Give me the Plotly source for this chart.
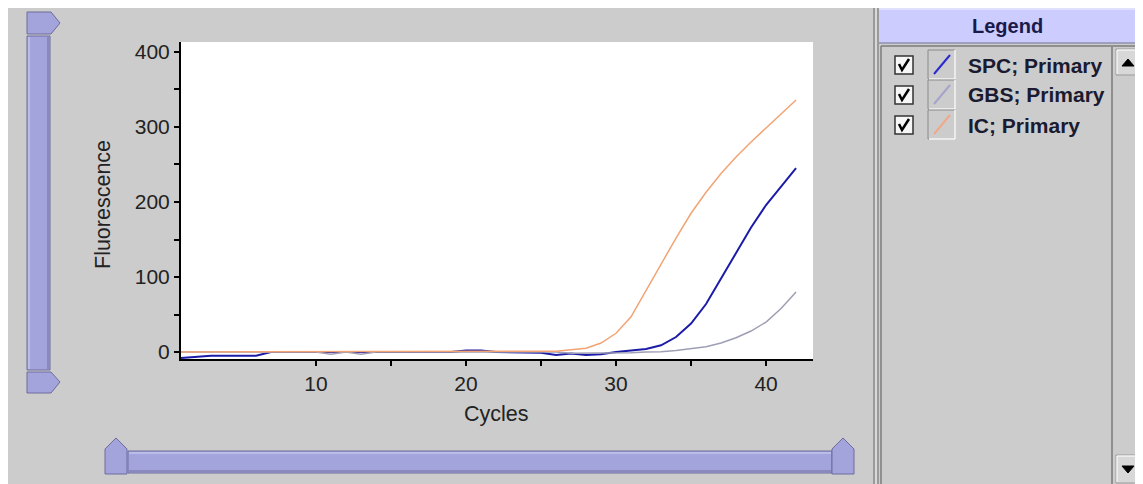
import plotly.graph_objects as go

# ---------------- data ----------------
cycles = [1, 2, 3, 4, 5, 6, 7, 8, 9, 10,
          11, 12, 13, 14, 15, 16, 17, 18, 19, 20,
          21, 22, 23, 24, 25, 26, 27, 28, 29, 30,
          31, 32, 33, 34, 35, 36, 37, 38, 39, 40,
          41, 42]

spc = [-8, -6, -5, -5, -5, -5, 0, 0, 0, 0,
       0, 0, 0, 0, 0, 0, 0, 0, 0, 2,
       2, 0, 0, 0, -1, -4, -2, -4, -3, 0,
       2, 4, 9, 20, 38, 64, 98, 132, 166, 196,
       221, 245]

gbs = [0, 0, 0, 0, 0, 0, 0, 0, 0, 0,
       -3, 0, -3, 0, 0, 0, 0, 0, 0, 0,
       0, 0, 0, 0, 0, 0, -1.5, -1.5, -1.5, -1.5,
       -1, 0, 0.5, 2, 4, 7, 12, 19, 28, 40,
       58, 80]

ic = [0, 0, 0, 0, 0, 0, 0, 0, 0, 0,
      0, 0, 0, 0, 0, 0, 0, 0, 0, 0,
      0, 0, 0, 0, 0, 1, 3, 5, 12, 25,
      47, 82, 117, 152, 185, 213, 238, 260, 280, 299,
      318, 336]

series_names = ["SPC; Primary", "GBS; Primary", "IC; Primary"]
series_colors = ["#1c1ca8", "#9e9eb4", "#f2a474"]
swatch_colors = ["#2a2ad0", "#a4a4cc", "#f0a888"]

x_major = [10, 20, 30, 40]
x_minor = [15, 25, 35]
y_major = [0, 100, 200, 300, 400]
y_minor = [50, 150, 250, 350]
x_range = [1, 43.13]
y_range = [-9.3, 413.3]

x_title = "Cycles"
y_title = "Fluorescence"
legend_title = "Legend"

# ---------------- geometry helpers (reference pixel -> paper) ----------------
VW, VH = 1143, 484          # browser window
OX, OY = 8, 8               # default page body margin
W, H = VW - OX, VH - OY     # figure size
PL, PR, PT, PB = 181, 813, 42, 359   # plot area in window pixels


def fx(px):
    return (px - PL) / (PR - PL)


def fy(py):
    return (PB - py) / (PB - PT)


shapes = []


def rect(x0, y0, x1, y1, fill, line=None, lw=1):
    shapes.append(dict(type="rect", xref="paper", yref="paper",
                       x0=fx(x0), x1=fx(x1), y0=fy(y1), y1=fy(y0),
                       fillcolor=fill,
                       line=dict(color=line if line else fill, width=lw if line else 0)))


def seg(x0, y0, x1, y1, color, w=1):
    shapes.append(dict(type="line", xref="paper", yref="paper",
                       x0=fx(x0), x1=fx(x1), y0=fy(y0), y1=fy(y1),
                       line=dict(color=color, width=w)))


def poly(pts, fill, line=None, lw=1, closed=True):
    d = "M " + " L ".join(f"{fx(x):.5f},{fy(y):.5f}" for x, y in pts)
    if closed:
        d += " Z"
    shapes.append(dict(type="path", xref="paper", yref="paper", path=d,
                       fillcolor=fill if closed else None,
                       line=dict(color=line if line else fill, width=lw)))


BG = "#cccccc"
SL_FILL = "#a4a4dc"
SL_LINE = "#6c6c9c"
SL_HI = "#c4c4ee"
FONT = "Liberation Sans, Arial, sans-serif"

# left vertical slider
rect(27, 36, 50, 370, SL_FILL, SL_LINE, 1)
seg(29, 37, 29, 369, SL_HI, 1.5)
seg(48, 37, 48, 369, "#8080b4", 1.5)
poly([(27, 12), (51, 12), (60, 23), (51, 34), (27, 34)], SL_FILL, SL_LINE, 1)
poly([(27, 372), (51, 372), (60, 382), (51, 393), (27, 393)], SL_FILL, SL_LINE, 1)

# bottom horizontal slider
rect(128, 451, 832, 473, SL_FILL, SL_LINE, 1)
seg(129, 453, 831, 453, SL_HI, 1.5)
seg(129, 471, 831, 471, "#8080b4", 1.5)
poly([(105, 449), (116, 438), (127, 449), (127, 474), (105, 474)], SL_FILL, SL_LINE, 1)
poly([(832, 449), (843, 438), (854, 449), (854, 474), (832, 474)], SL_FILL, SL_LINE, 1)

# separator between chart and legend panel
seg(874, 8, 874, VH, "#8a8a8a", 1.5)
seg(876, 8, 876, VH, "#e4e4e4", 1)
seg(878, 8, 878, VH, "#8a8a8a", 1.5)

# legend header
rect(879, 8, VW, 43, "#ccccff")
seg(879, 9, VW, 9, "#f4f4ff", 1)
seg(879, 43, VW, 43, "#9090b0", 1.5)

# list area borders
seg(881, 46, 881, VH, "#7c7c7c", 1.5)
seg(881, 46, VW, 46, "#7c7c7c", 1.5)

# scrollbar
seg(1112, 47, 1112, VH, "#7a7a7a", 1.5)
seg(1141, 47, 1141, VH, "#8a8a8a", 1)
rect(1116, 49, 1140, 75, "#d8d8d8", "#9a9a9a", 1)
seg(1117, 50, 1139, 50, "white", 1)
seg(1117, 50, 1117, 74, "white", 1)
poly([(1122, 66), (1134, 66), (1128, 59)], "black", "black", 1)
rect(1116, 455, 1140, 483, "#d8d8d8", "#9a9a9a", 1)
seg(1117, 456, 1139, 456, "white", 1)
seg(1117, 456, 1117, 482, "white", 1)
poly([(1122, 466), (1134, 466), (1128, 473)], "black", "black", 1)

# legend rows: checkboxes and swatches
annotations = []
row_y = [65, 95, 125]
for name, col, c in zip(series_names, swatch_colors, row_y):
    rect(895, c - 9, 913, c + 9, "#f6f6f6", "#333333", 1.5)
    poly([(899, c - 1), (902, c + 5), (909, c - 6)], None, "black", 2.5, closed=False)
    rect(928, c - 15, 955, c + 14, BG, "#8a8a8a", 1)
    seg(929, c + 14, 955, c + 14, "white", 1.5)
    seg(955, c - 15, 955, c + 14, "white", 1.5)
    seg(934, c + 9, 950, c - 10, col, 2)
    annotations.append(dict(text=f"<b>{name}</b>", xref="paper", yref="paper",
                            x=fx(966), y=fy(c), xanchor="left", yanchor="middle",
                            showarrow=False,
                            font=dict(family=FONT, size=21, color="#1a1a30")))

annotations.append(dict(text=f"<b>{legend_title}</b>", xref="paper", yref="paper",
                        x=fx(1007), y=fy(26), xanchor="center", yanchor="middle",
                        showarrow=False,
                        font=dict(family=FONT, size=20, color="#1a1a4a")))
annotations.append(dict(text=x_title, xref="paper", yref="paper",
                        x=fx(496), y=fy(414), xanchor="center", yanchor="middle",
                        showarrow=False,
                        font=dict(family=FONT, size=21.5, color="#222222")))
annotations.append(dict(text=y_title, xref="paper", yref="paper",
                        x=fx(103), y=fy(205), xanchor="center", yanchor="middle",
                        textangle=-90, showarrow=False,
                        font=dict(family=FONT, size=21.5, color="#222222")))

# ---------------- traces ----------------
fig = go.Figure()
widths = [2, 1.5, 1.5]
for name, vals, col, w in zip(series_names, [spc, gbs, ic], series_colors, widths):
    fig.add_trace(go.Scatter(x=cycles, y=vals, mode="lines", name=name,
                             line=dict(color=col, width=w), showlegend=False,
                             hoverinfo="skip"))

tick_font = dict(family=FONT, size=21, color="#222222")

fig.update_layout(
    width=W, height=H,
    margin=dict(l=PL - OX, r=VW - PR, t=PT - OY, b=VH - PB, pad=0),
    paper_bgcolor=BG, plot_bgcolor="white",
    showlegend=False,
    shapes=shapes, annotations=annotations,
    xaxis=dict(range=x_range, tickmode="array", tickvals=x_major,
               ticks="outside", ticklen=5, tickwidth=2, tickcolor="black",
               minor=dict(tickmode="array", tickvals=x_minor, ticks="outside",
                          ticklen=5, tickwidth=2, tickcolor="black"),
               showline=True, linecolor="black", linewidth=2,
               showgrid=False, zeroline=False, tickfont=tick_font),
    yaxis=dict(range=y_range, tickmode="array", tickvals=y_major,
               ticks="outside", ticklen=5, tickwidth=2, tickcolor="black",
               minor=dict(tickmode="array", tickvals=y_minor, ticks="outside",
                          ticklen=5, tickwidth=2, tickcolor="black"),
               showline=True, linecolor="black", linewidth=2,
               showgrid=False, zeroline=False, tickfont=tick_font),
    xaxis2=dict(range=x_range, overlaying="x", anchor="y", side="bottom",
                tickmode="array", tickvals=x_major, ticks="inside", ticklen=4,
                tickwidth=2, tickcolor="black", showticklabels=False,
                minor=dict(tickmode="array", tickvals=x_minor, ticks="inside",
                           ticklen=4, tickwidth=2, tickcolor="black"),
                showline=False, showgrid=False, zeroline=False),
    yaxis2=dict(range=y_range, overlaying="y", anchor="x", side="left",
                tickmode="array", tickvals=y_major, ticks="inside", ticklen=4,
                tickwidth=2, tickcolor="black", showticklabels=False,
                minor=dict(tickmode="array", tickvals=y_minor, ticks="inside",
                           ticklen=4, tickwidth=2, tickcolor="black"),
                showline=False, showgrid=False, zeroline=False),
)

fig.write_html("out.html")
